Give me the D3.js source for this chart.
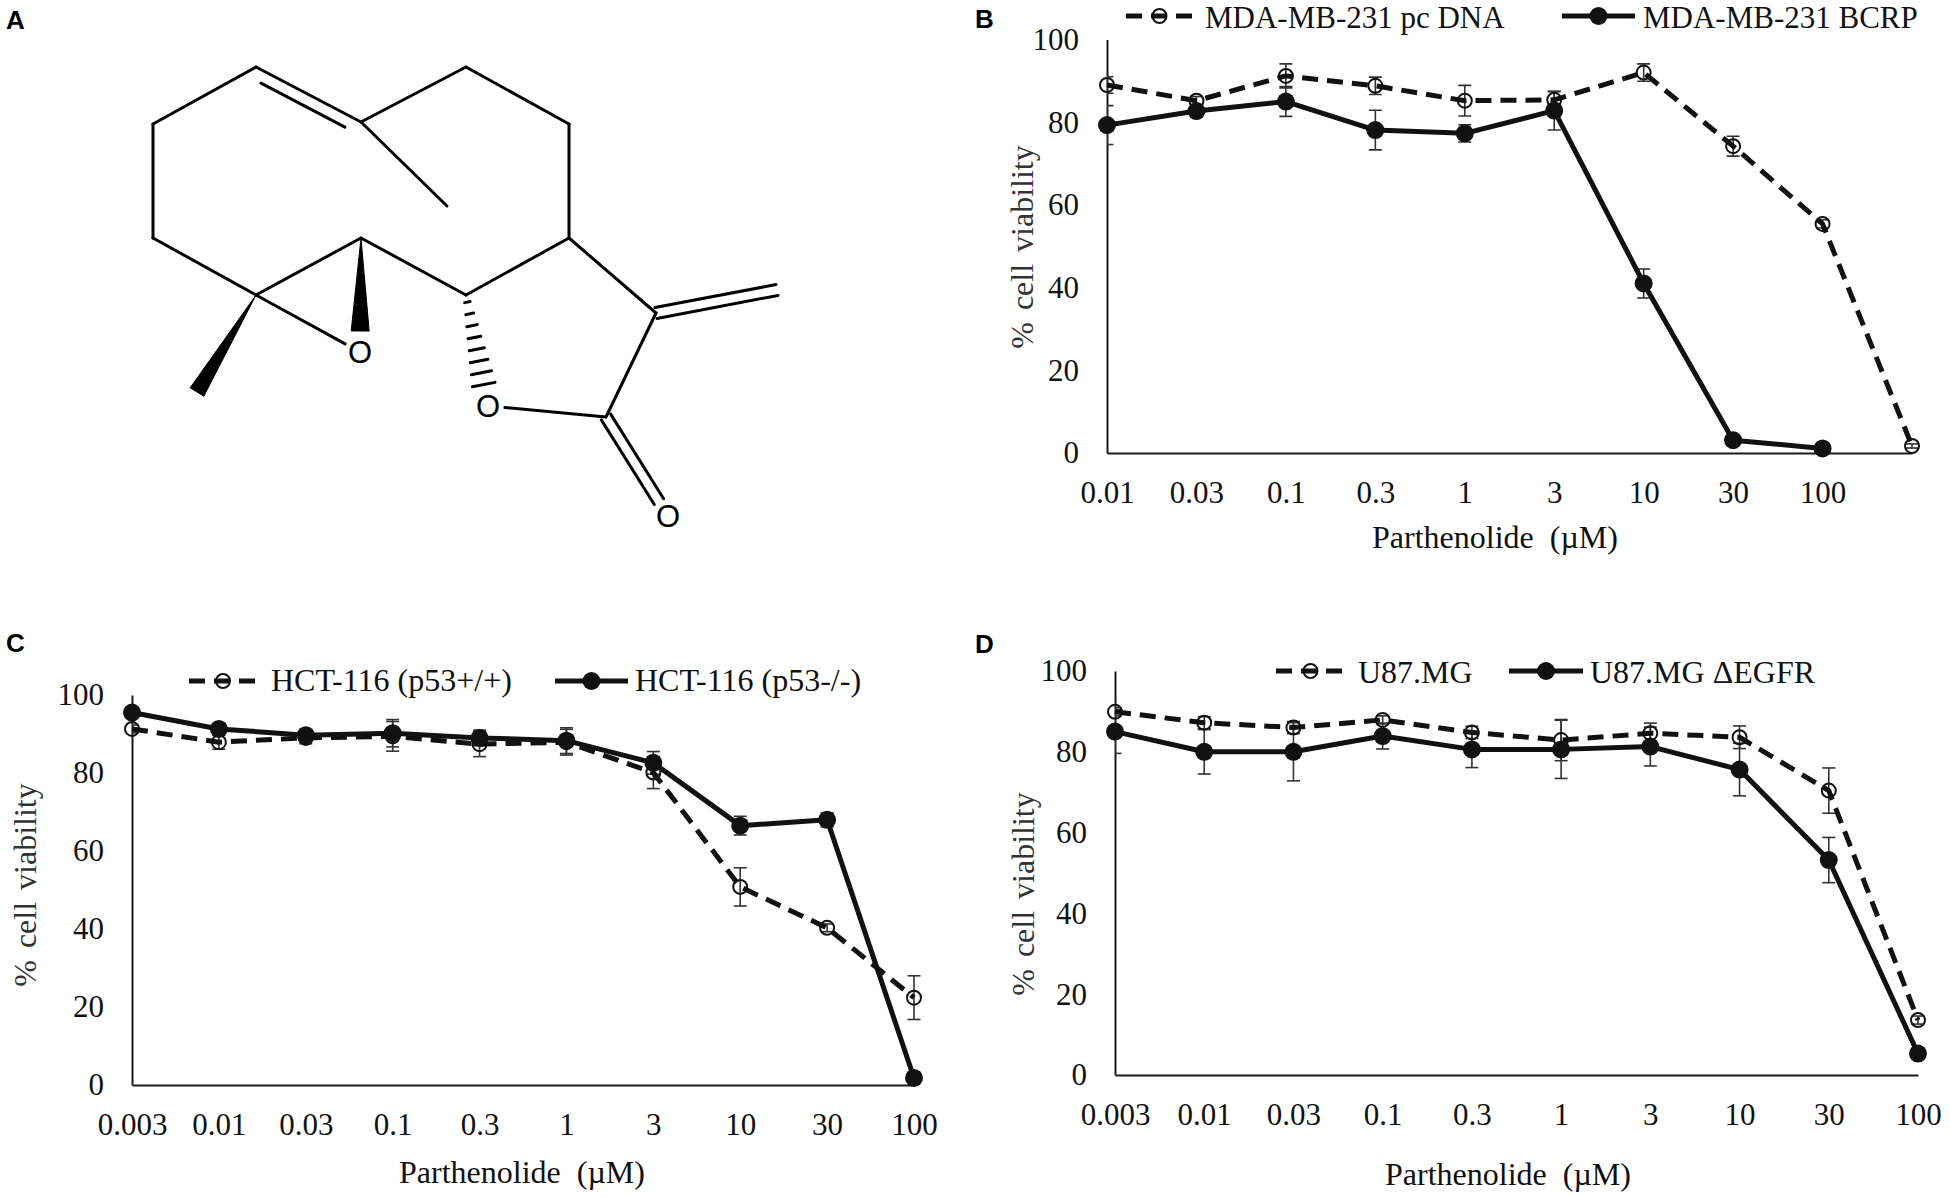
<!DOCTYPE html>
<html>
	<head>
		<meta charset="utf-8">
		<script src="https://d3js.org/d3.v7.min.js"></script>
		<style>
			body { margin: 0; background: #fff; }
			svg { display: block; }
		</style>
	</head>
	<body>
		<div id="stuff">
			<svg width="1950" height="1197"></svg>
		</div>
		<script>

	// ---- data ----
	var dosesB = ["0.01", "0.03", "0.1", "0.3", "1", "3", "10", "30", "100", ""];
	var dosesCD = ["0.003", "0.01", "0.03", "0.1", "0.3", "1", "3", "10", "30", "100"];
	var yTicks = [0, 20, 40, 60, 80, 100];

	// panel B
	var mdaPc = [89.0, 85.2, 91.2, 88.8, 85.2, 85.4, 92.0, 74.2, 55.4, 1.7];
	var mdaPcErr = [2.0, 1.0, 2.9, 2.1, 3.7, 2.0, 2.1, 2.4, 1.0, 0.5];
	var mdaBcrp = [79.3, 82.7, 85.0, 78.1, 77.3, 82.8, 41.0, 3.1, 1.1, null];
	var mdaBcrpErr = [4.7, 1.0, 3.6, 4.8, 2.1, 4.7, 3.5, 0.8, 0.5, null];

	// panel C
	var hctWt = [91.3, 87.9, 89.0, 89.4, 87.4, 87.9, 80.1, 50.8, 40.3, 22.4];
	var hctWtErr = [1.0, 1.8, 1.5, 3.8, 3.2, 3.3, 4.1, 4.9, 1.0, 5.6];
	var hctNull = [95.5, 91.3, 89.7, 90.2, 89.0, 88.3, 82.6, 66.5, 68.0, 1.8];
	var hctNullErr = [1.0, 1.2, 1.5, 3.5, 2.0, 3.3, 2.9, 2.4, 1.8, 0.5];

	// panel D
	var u87 = [89.9, 87.2, 86.0, 87.9, 84.8, 82.9, 84.6, 83.6, 70.4, 13.6];
	var u87Err = [1.0, 1.5, 1.5, 1.0, 1.5, 5.1, 2.5, 2.8, 5.6, 1.0];
	var u87Egfr = [85.0, 80.0, 80.0, 83.9, 80.6, 80.6, 81.3, 75.6, 53.2, 5.3];
	var u87EgfrErr = [5.4, 5.5, 7.2, 3.2, 4.5, 7.2, 4.8, 6.5, 5.6, 0.5];

	// parthenolide skeleton (panel A), local pixel frame
	var molAtoms = {
		a1: [256, 67], a2: [153, 124], a3: [153, 238], a4: [256, 295], a5: [361, 122],
		a6: [466, 67], a7: [569, 124], a8: [569, 238], a9: [466, 295], a10: [361, 238],
		me5: [447, 206], me4: [197, 392], Oep: [360, 352], Olac: [488, 406],
		c11: [656, 313], ch2: [777, 290], c12: [606, 417], Oco: [668, 516]
	};
	var molBonds = [
		["a1", "a2", "single"], ["a2", "a3", "single"], ["a3", "a4", "single"],
		["a4", "a10", "single"], ["a10", "a9", "single"], ["a9", "a8", "single"],
		["a8", "a7", "single"], ["a7", "a6", "single"], ["a6", "a5", "single"],
		["a5", "a1", "inner"], ["a5", "me5", "single"], ["a4", "Oep", "single"],
		["a8", "c11", "single"], ["c11", "ch2", "double"], ["c11", "c12", "single"],
		["c12", "Olac", "single"], ["c12", "Oco", "double"],
		["a4", "me4", "wedge"], ["a10", "Oep", "wedge"], ["a9", "Olac", "hash"]
	];
	var molLabels = ["Oep", "Olac", "Oco"];

	var serif = '"Liberation Serif", "Times New Roman", serif';
	var sans = '"Liberation Sans", Arial, sans-serif';
	var ink = "#111";

	var svg = d3.select("#stuff").select("svg");

	// panel letters
	[["A", 6, 29], ["B", 975, 28], ["C", 6, 652], ["D", 975, 653]].forEach(function(l) {
		svg.append("text")
			.attr("x", l[1])
			.attr("y", l[2])
			.attr("font-family", sans)
			.attr("font-weight", "bold")
			.style("font-size", "26px")
			.attr("fill", "#000")
			.text(l[0]);
	});

	drawMolecule();

	drawPanel({
		id: "B", cats: dosesB,
		left: 1107, right: 1912, top: 39.5, bottom: 453,
		xTitle: [1495, 548], yTitle: [1033, 247], legendFont: 31,
		series: [
			{ values: mdaPc, errors: mdaPcErr, dashed: true, label: "MDA-MB-231 pc DNA", leg: [1126, 1193, 16, 1205, 28] },
			{ values: mdaBcrp, errors: mdaBcrpErr, dashed: false, label: "MDA-MB-231 BCRP", leg: [1562, 1635, 16, 1643, 28] }
		]
	});

	drawPanel({
		id: "C", cats: dosesCD,
		left: 132, right: 914, top: 695, bottom: 1085,
		xTitle: [522, 1183], yTitle: [36, 885], legendFont: 32,
		series: [
			{ values: hctWt, errors: hctWtErr, dashed: true, label: "HCT-116 (p53+/+)", leg: [189, 257, 681, 271, 691] },
			{ values: hctNull, errors: hctNullErr, dashed: false, label: "HCT-116 (p53-/-)", leg: [555, 628, 681, 635, 691] }
		]
	});

	drawPanel({
		id: "D", cats: dosesCD,
		left: 1115, right: 1918, top: 671, bottom: 1075,
		xTitle: [1508, 1185], yTitle: [1034, 894], legendFont: 32,
		series: [
			{ values: u87, errors: u87Err, dashed: true, label: "U87.MG", leg: [1276, 1345, 671, 1358, 683] },
			{ values: u87Egfr, errors: u87EgfrErr, dashed: false, label: "U87.MG \u0394EGFR", leg: [1509, 1583, 671, 1590, 683] }
		]
	});

	function drawPanel(p) {
		var g = svg.append("g").attr("class", "panel-" + p.id);
		var x = d3.scalePoint().domain(d3.range(p.cats.length)).range([p.left, p.right]);
		var y = d3.scaleLinear().domain([0, 100]).range([p.bottom, p.top]);

		// error bars are clipped at the value axis, like the original
		var clipId = "clip" + p.id;
		svg.append("clipPath").attr("id", clipId)
			.append("rect")
			.attr("x", p.left)
			.attr("y", p.top - 30)
			.attr("width", p.right - p.left + 30)
			.attr("height", p.bottom - p.top + 30);

		// x axis
		var xAxis = d3.axisBottom(x)
			.tickSize(0)
			.tickSizeOuter(0)
			.tickPadding(28)
			.tickFormat(function(i) { return p.cats[i]; });
		var gx = g.append("g")
			.attr("transform", "translate(0," + p.bottom + ")")
			.call(xAxis);

		// y axis
		var yAxis = d3.axisLeft(y)
			.tickValues(yTicks)
			.tickSize(0)
			.tickSizeOuter(0)
			.tickPadding(28);
		var gy = g.append("g")
			.attr("transform", "translate(" + p.left + ",0)")
			.call(yAxis);

		[gx, gy].forEach(function(a) {
			a.select(".domain").attr("stroke", "#1a1a1a").attr("stroke-width", 2);
			a.selectAll("text")
				.attr("font-family", serif)
				.style("font-size", "31px")
				.attr("fill", ink);
		});

		// axis titles
		g.append("text")
			.attr("x", p.xTitle[0])
			.attr("y", p.xTitle[1])
			.attr("font-family", serif)
			.style("font-size", "32px")
			.style("white-space", "pre")
			.attr("text-anchor", "middle")
			.attr("fill", ink)
			.text("Parthenolide  (\u00b5M)");

		g.append("text")
			.attr("transform", "translate(" + p.yTitle[0] + "," + p.yTitle[1] + ") rotate(-90)")
			.attr("font-family", serif)
			.style("font-size", "32px")
			.style("word-spacing", "4px")
			.attr("text-anchor", "middle")
			.attr("fill", "#333")
			.text("% cell viability");

		// error bars
		var eb = g.append("g").attr("clip-path", "url(#" + clipId + ")");
		p.series.forEach(function(s) {
			s.values.forEach(function(v, i) {
				var e = s.errors[i];
				if (v === null || !e) return;
				var cx = x(i);
				eb.append("line")
					.attr("x1", cx).attr("x2", cx)
					.attr("y1", y(v - e)).attr("y2", y(v + e))
					.attr("stroke", "#333").attr("stroke-width", 1.6);
				[v - e, v + e].forEach(function(t) {
					eb.append("line")
						.attr("x1", cx - 6.5).attr("x2", cx + 6.5)
						.attr("y1", y(t)).attr("y2", y(t))
						.attr("stroke", "#333").attr("stroke-width", 1.6);
				});
			});
		});

		// lines and markers
		var line = d3.line()
			.defined(function(d) { return d !== null; })
			.x(function(d, i) { return x(i); })
			.y(function(d) { return y(d); });

		p.series.forEach(function(s) {
			g.append("path")
				.datum(s.values)
				.attr("d", line)
				.attr("fill", "none")
				.attr("stroke", ink)
				.attr("stroke-width", 5)
				.attr("stroke-linejoin", "round")
				.attr("stroke-dasharray", s.dashed ? "16,9" : null);

			s.values.forEach(function(v, i) {
				if (v === null) return;
				drawMarker(g, x(i), y(v), s.dashed);
			});

			// legend entry
			var L = s.leg;
			g.append("line")
				.attr("x1", L[0]).attr("x2", L[1])
				.attr("y1", L[2]).attr("y2", L[2])
				.attr("stroke", ink)
				.attr("stroke-width", 5)
				.attr("stroke-dasharray", s.dashed ? "16,9" : null);
			drawMarker(g, (L[0] + L[1]) / 2, L[2], s.dashed);
			g.append("text")
				.attr("x", L[3])
				.attr("y", L[4])
				.attr("font-family", serif)
				.style("font-size", p.legendFont + "px")
				.attr("fill", ink)
				.text(s.label);
		});
	}

	function drawMarker(g, cx, cy, open) {
		if (open) {
			g.append("circle")
				.attr("cx", cx).attr("cy", cy).attr("r", 7)
				.attr("fill", "none")
				.attr("stroke", ink)
				.attr("stroke-width", 2);
		} else {
			g.append("circle")
				.attr("cx", cx).attr("cy", cy).attr("r", 9)
				.attr("fill", ink);
		}
	}

	function drawMolecule() {
		var g = svg.append("g").attr("class", "molecule");
		var mx = d3.scaleLinear().domain([0, 1]).range([0, 1]);
		var my = d3.scaleLinear().domain([0, 1]).range([0, 1]);
		var stroke = 3;

		function pt(name) { return [mx(molAtoms[name][0]), my(molAtoms[name][1])]; }
		function isO(name) { return molLabels.indexOf(name) >= 0; }

		// trims a bond so it stops short of an O label
		function ends(b) {
			var p1 = pt(b[0]), p2 = pt(b[1]);
			var dx = p2[0] - p1[0], dy = p2[1] - p1[1];
			var len = Math.sqrt(dx * dx + dy * dy);
			var ux = dx / len, uy = dy / len;
			var t1 = isO(b[0]) ? 17 : 0, t2 = isO(b[1]) ? 17 : 0;
			return {
				x1: p1[0] + ux * t1, y1: p1[1] + uy * t1,
				x2: p2[0] - ux * t2, y2: p2[1] - uy * t2,
				ux: ux, uy: uy, nx: -uy, ny: ux, len: len - t1 - t2
			};
		}

		function seg(x1, y1, x2, y2) {
			g.append("line")
				.attr("x1", x1).attr("y1", y1)
				.attr("x2", x2).attr("y2", y2)
				.attr("stroke", "#000")
				.attr("stroke-width", stroke)
				.attr("stroke-linecap", "round");
		}

		molBonds.forEach(function(b) {
			var e = ends(b);
			if (b[2] === "single") {
				seg(e.x1, e.y1, e.x2, e.y2);
			} else if (b[2] === "double") {
				seg(e.x1 + e.nx * 5.5, e.y1 + e.ny * 5.5, e.x2 + e.nx * 5.5, e.y2 + e.ny * 5.5);
				seg(e.x1 - e.nx * 5.5, e.y1 - e.ny * 5.5, e.x2 - e.nx * 5.5, e.y2 - e.ny * 5.5);
			} else if (b[2] === "inner") {
				seg(e.x1, e.y1, e.x2, e.y2);
				// inner line of the ring double bond (toward ring centre, below-left)
				var off = 12, sh = e.len * 0.1;
				seg(e.x1 - e.nx * off + e.ux * sh, e.y1 - e.ny * off + e.uy * sh,
					e.x2 - e.nx * off - e.ux * sh, e.y2 - e.ny * off - e.uy * sh);
			} else if (b[2] === "wedge") {
				var w = isO(b[1]) ? 9 : 8;
				if (isO(b[1])) {
					e.x2 = e.x1 + e.ux * (e.len - 4);
					e.y2 = e.y1 + e.uy * (e.len - 4);
				}
				g.append("path")
					.attr("d", "M" + e.x1 + "," + e.y1 +
						"L" + (e.x2 + e.nx * w) + "," + (e.y2 + e.ny * w) +
						"L" + (e.x2 - e.nx * w) + "," + (e.y2 - e.ny * w) + "Z")
					.attr("fill", "#000")
					.attr("stroke", "#000")
					.attr("stroke-width", 1);
			} else if (b[2] === "hash") {
				var n = 8;
				for (var k = 0; k < n; k++) {
					var t = (k + 0.6) / n;
					var hx = e.x1 + (e.x2 - e.x1) * t;
					var hy = e.y1 + (e.y2 - e.y1) * t;
					var hw = 2 + 10 * t;
					seg(hx - e.nx * hw, hy - e.ny * hw, hx + e.nx * hw, hy + e.ny * hw);
				}
			}
		});

		molLabels.forEach(function(name) {
			var p = pt(name);
			g.append("text")
				.attr("x", p[0])
				.attr("y", p[1] + 11)
				.attr("font-family", sans)
				.style("font-size", "31px")
				.attr("text-anchor", "middle")
				.attr("fill", "#000")
				.text("O");
		});
	}

		</script>
	</body>
</html>
